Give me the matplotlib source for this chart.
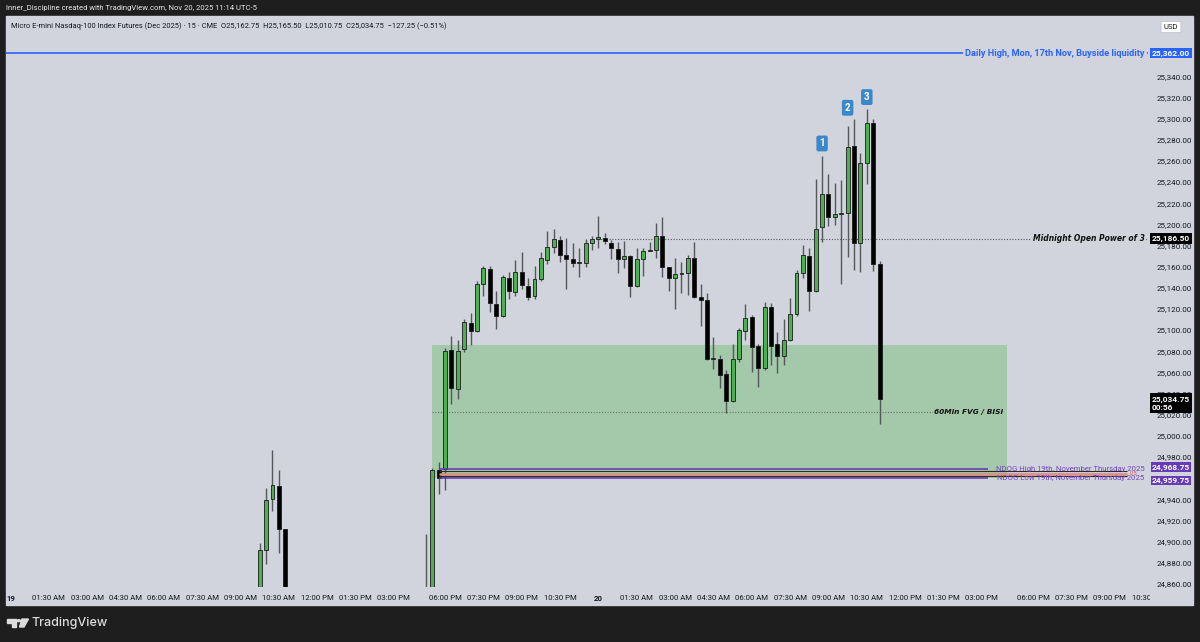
import matplotlib.pyplot as plt
import matplotlib.patches as mpatches
from matplotlib.transforms import Bbox, TransformedBbox
import pandas as pd

# 15 min MNQ candles, Nov 19-20 2025 (only the ones that reach the visible price range)
times = ['2025-11-19 09:45', '2025-11-19 10:00', '2025-11-19 10:15', '2025-11-19 10:30', '2025-11-19 10:45',
         '2025-11-19 16:15', '2025-11-19 16:30', '2025-11-19 16:45',
         '2025-11-19 18:00', '2025-11-19 18:15', '2025-11-19 18:30', '2025-11-19 18:45',
         '2025-11-19 19:00', '2025-11-19 19:15', '2025-11-19 19:30', '2025-11-19 19:45',
         '2025-11-19 20:00', '2025-11-19 20:15', '2025-11-19 20:30', '2025-11-19 20:45',
         '2025-11-19 21:00', '2025-11-19 21:15', '2025-11-19 21:30', '2025-11-19 21:45',
         '2025-11-19 22:00', '2025-11-19 22:15', '2025-11-19 22:30', '2025-11-19 22:45',
         '2025-11-19 23:00', '2025-11-19 23:15', '2025-11-19 23:30', '2025-11-19 23:45',
         '2025-11-20 00:00', '2025-11-20 00:15', '2025-11-20 00:30', '2025-11-20 00:45',
         '2025-11-20 01:00', '2025-11-20 01:15', '2025-11-20 01:30', '2025-11-20 01:45',
         '2025-11-20 02:00', '2025-11-20 02:15', '2025-11-20 02:30', '2025-11-20 02:45',
         '2025-11-20 03:00', '2025-11-20 03:15', '2025-11-20 03:30', '2025-11-20 03:45',
         '2025-11-20 04:00', '2025-11-20 04:15', '2025-11-20 04:30', '2025-11-20 04:45',
         '2025-11-20 05:00', '2025-11-20 05:15', '2025-11-20 05:30', '2025-11-20 05:45',
         '2025-11-20 06:00', '2025-11-20 06:15', '2025-11-20 06:30', '2025-11-20 06:45',
         '2025-11-20 07:00', '2025-11-20 07:15', '2025-11-20 07:30', '2025-11-20 07:45',
         '2025-11-20 08:00', '2025-11-20 08:15', '2025-11-20 08:30', '2025-11-20 08:45',
         '2025-11-20 09:00', '2025-11-20 09:15', '2025-11-20 09:30', '2025-11-20 09:45',
         '2025-11-20 10:00', '2025-11-20 10:15', '2025-11-20 10:30', '2025-11-20 10:45',
         '2025-11-20 11:00']
opens = [24840, 24892, 24940, 24952.5, 24911.5,
         24835, 24815, 24968,
         24968.75, 25081, 25044, 25082, 25106.5, 25099, 25143.5, 25158,
         25125, 25113, 25149, 25136, 25155, 25142, 25132, 25148,
         25166, 25179, 25185, 25171, 25167.5, 25163, 25163.5, 25182.5,
         25186.5, 25187.5, 25182.5, 25177, 25167.5, 25170.5, 25141.5, 25167,
         25175, 25176, 25188.5, 25159.5, 25149.5, 25153, 25153.5, 25168,
         25131, 25128, 25073, 25073, 25058, 25033, 25073, 25099,
         25112, 25085, 25064, 25121.5, 25087, 25075.5, 25091, 25115,
         25154, 25170, 25137, 25197, 25228.5, 25207, 25210, 25211,
         25274.5, 25182, 25258, 25296, 25162.75]
highs = [24899, 24950.5, 24987, 24968, 24912,
         24907, 24970, 24975,
         25083, 25094, 25091, 25110, 25116.5, 25146.5, 25160.5, 25161,
         25137, 25152, 25155, 25166, 25174, 25149, 25160.5, 25174,
         25194, 25196, 25189, 25187, 25182, 25177.5, 25186, 25189,
         25208, 25191.5, 25185, 25183.5, 25184.5, 25171, 25178, 25178,
         25183.5, 25201.5, 25207, 25159.5, 25168, 25164, 25171, 25183.5,
         25143.5, 25135, 25093, 25076, 25062, 25087, 25102, 25124.5,
         25114, 25087, 25126.5, 25126, 25098.5, 25110, 25130, 25157,
         25180.5, 25177.5, 25243, 25264.5, 25248, 25239, 25242, 25293,
         25299.5, 25267, 25309, 25299.5, 25165.5]
lows = [24830, 24879, 24929, 24889, 24820,
        24805, 24805, 24945,
        24949, 25030, 25035, 25079.5, 25086, 25098, 25132, 25117.5,
        25101, 25112, 25129, 25132, 25138.5, 25128, 25129, 25146,
        25162, 25172.5, 25164.5, 25138.5, 25159.5, 25150, 25160, 25176,
        25177.5, 25181, 25167, 25153.5, 25159, 25131.5, 25140.5, 25151,
        25175, 25168, 25150.5, 25137, 25120, 25135, 25133, 25130,
        25104, 25072, 25063.5, 25045, 25021.5, 25032, 25070, 25091,
        25060, 25046.5, 25062, 25067, 25059, 25067, 25090, 25113,
        25149, 25118, 25136, 25183.5, 25198, 25199, 25143.5, 25169,
        25157, 25155, 25238, 25156, 25010.75]
closes = [24892, 24939.5, 24953, 24911.5, 24840,
          24815, 24967.5, 24959.75,
          25080, 25045, 25080, 25108, 25099, 25143.5, 25158.5, 25126,
          25113, 25150.5, 25136.5, 25155, 25142.5, 25131.5, 25148, 25168,
          25179, 25186, 25171, 25167.5, 25163, 25163.5, 25182.75, 25186,
          25188, 25184, 25178, 25167, 25170.5, 25141.5, 25167.5, 25175,
          25176, 25188.5, 25159.5, 25149.5, 25153, 25153.5, 25168, 25131,
          25128, 25073, 25072.5, 25057.5, 25033, 25073, 25100, 25111.5,
          25084, 25064, 25121.5, 25085, 25075.5, 25091, 25115, 25153.5,
          25171, 25137, 25196, 25228.5, 25207, 25209.5, 25211, 25273,
          25182.5, 25258, 25296, 25162, 25034.75]

# key levels
daily_high = 25362.00
midnight_open = 25186.50
ndog_high = 24968.75
ndog_low = 24959.75
fvg_top = 25085.75
fvg_bottom = 24959.75
last_price = 25034.75

marker_times = ['2025-11-20 08:45', '2025-11-20 09:45', '2025-11-20 10:30']
marker_labels = ['1', '2', '3']

tick_times = ['2025-11-19 00:00', '2025-11-19 01:30', '2025-11-19 03:00', '2025-11-19 04:30',
              '2025-11-19 06:00', '2025-11-19 07:30', '2025-11-19 09:00', '2025-11-19 10:30',
              '2025-11-19 12:00', '2025-11-19 13:30', '2025-11-19 15:00', '2025-11-19 18:00',
              '2025-11-19 19:30', '2025-11-19 21:00', '2025-11-19 22:30', '2025-11-20 00:00',
              '2025-11-20 01:30', '2025-11-20 03:00', '2025-11-20 04:30', '2025-11-20 06:00',
              '2025-11-20 07:30', '2025-11-20 09:00', '2025-11-20 10:30', '2025-11-20 12:00',
              '2025-11-20 13:30', '2025-11-20 15:00', '2025-11-20 18:00', '2025-11-20 19:30',
              '2025-11-20 21:00', '2025-11-20 22:30']

DAY0 = pd.Timestamp('2025-11-19 00:00')


def slot(ts):
    # bar index on the 15 min session axis (CME break 17:00-18:00 removed)
    t = pd.Timestamp(ts)
    n = (t - DAY0).total_seconds() / 900
    for d in ['2025-11-19', '2025-11-20']:
        if t >= pd.Timestamp(d + ' 18:00'):
            n -= 4
    return n


BG = '#d1d4dc'
DARK = '#1e1e1e'
GREEN = '#4caf50'
BLUE = '#2962ff'
PURPLE = '#673ab7'
TXT = '#131722'

plt.rcParams['font.family'] = ['Roboto', 'DejaVu Sans']

W, H = 1200, 642
fig = plt.figure(figsize=(12, 6.42), dpi=100, facecolor=DARK)


def fx(px):
    return px / W


def fy(py):
    return 1 - py / H


fig.add_artist(mpatches.Rectangle((fx(6), fy(605)), (1193 - 6) / W, (605 - 16) / H,
                                  transform=fig.transFigure, color=BG, zorder=-1))
ax = fig.add_axes([fx(6), fy(587), (1148 - 6) / W, (587 - 16) / H], facecolor=BG)
for s in ax.spines.values():
    s.set_visible(False)

xs = [slot(t) for t in times]

# candles
for x, o, h, l, c in zip(xs, opens, highs, lows, closes):
    ax.vlines(x, l, h, color='#55575c', lw=1, zorder=3)
    if abs(c - o) < 1.2:
        col = '#6b6d72'
    elif c > o:
        col = GREEN
    else:
        col = '#000000'
    ax.bar(x, max(abs(c - o), 0.9), bottom=min(o, c), width=0.62, color=col,
           edgecolor='#1c1c1c', lw=0.6, zorder=4)

# FVG box
x0 = slot('2025-11-19 16:30')
x1 = slot('2025-11-20 16:00')
ax.add_patch(mpatches.Rectangle((x0, fvg_bottom), x1 - x0, fvg_top - fvg_bottom,
                                color='#a3c8aa', lw=0, zorder=1))
fvg_mid = (fvg_top + fvg_bottom) / 2
ax.hlines(fvg_mid, x0, x1 - 1, color='#6a6f6a', lw=0.8, ls=(0, (1, 1.5)), zorder=2)
ax.text(x1 - 0.6, fvg_mid, '60Min FVG / BISI', ha='right', va='center', fontsize=5.3,
        family='DejaVu Sans', style='italic', weight='bold', color='#111',
        bbox=dict(fc='#a3c8aa', ec='none', pad=1.2), zorder=2.5)

# daily high
ax.axhline(daily_high, color=BLUE, lw=1.2, zorder=2)
ax.text(0.997, daily_high, 'Daily High, Mon, 17th Nov, Buyside liquidity', transform=ax.get_yaxis_transform(),
        ha='right', va='center', fontsize=6.6, weight='bold', color=BLUE,
        bbox=dict(fc=BG, ec='none', pad=1.5), zorder=2.5)

# midnight open
xm = slot('2025-11-20 00:00')
ax.hlines(midnight_open, xm, 178, color='#55585e', lw=0.8, ls=(0, (1, 1.5)), zorder=2)
ax.text(0.997, midnight_open, 'Midnight Open Power of 3', transform=ax.get_yaxis_transform(),
        ha='right', va='center', fontsize=5.5, family='DejaVu Sans', style='italic',
        weight='bold', color='#111', bbox=dict(fc=BG, ec='none', pad=1.2), zorder=2.5)

# NDOG levels
xn = slot('2025-11-19 16:45')
xe = slot('2025-11-20 15:15')
ndog_mid = (ndog_high + ndog_low) / 2
ax.hlines([ndog_high, ndog_low], xn, xe, color='#5e35b1', lw=1.1, zorder=5)
ax.hlines([ndog_mid + 2.25, ndog_mid - 2.25], xn, 174.7, color='#2a2a2a', lw=0.8, zorder=5)
ax.hlines(ndog_mid, xn, 174.7, color='#e08a80', lw=1.8, zorder=5)
ax.text(0.997, ndog_high, 'NDOG High 19th, November Thursday 2025', transform=ax.get_yaxis_transform(),
        ha='right', va='center', fontsize=5.6, color='#7048c0', zorder=6)
ax.text(0.997, ndog_low, 'NDOG Low 19th, November Thursday 2025', transform=ax.get_yaxis_transform(),
        ha='right', va='center', fontsize=5.6, color='#7048c0', zorder=6)
ax.text(175.2, ndog_mid, '0.5', ha='left', va='center', fontsize=4, color='#d9534f', zorder=6)

# 1-2-3 markers
for t, lab, off in zip(marker_times, marker_labels, [5.5, 9.5, 5]):
    i = times.index(t)
    ax.annotate(lab, (slot(t), highs[i]), xytext=(0, off), textcoords='offset points',
                ha='center', va='bottom', fontsize=7, weight='bold', color='white',
                bbox=dict(boxstyle='round,pad=0.3,rounding_size=0.2', fc='#3a87c9', ec='none'),
                zorder=7)

ax.set_xlim(-0.7, 178.0)
ax.set_ylim(24857, 25397)

# price scale (24,960 sits fully under the NDOG tags, so no label there)
yt = list(range(24860, 25341, 20))
ax.yaxis.tick_right()
ax.set_yticks(yt, ['' if v == 24960 else f'{v:,.2f}' for v in yt])
ax.tick_params(axis='y', length=0, pad=6, labelsize=5.8, labelcolor=TXT)

# time scale
tl = []
for t in tick_times:
    ts = pd.Timestamp(t)
    tl.append(str(ts.day) if ts.hour == 0 and ts.minute == 0 else ts.strftime('%I:%M %p'))
ax.set_xticks([slot(t) for t in tick_times], tl)
ax.tick_params(axis='x', length=0, pad=6, labelsize=5.6, labelcolor=TXT)
clip = TransformedBbox(Bbox([[fx(0), 0], [fx(1150), 1]]), fig.transFigure)
for lbl in ax.get_xticklabels():
    lbl.set_clip_box(clip)
    lbl.set_clip_on(True)
    if lbl.get_text() in ('19', '20'):
        lbl.set_fontweight('bold')

# price tags
ytr = ax.get_yaxis_transform()
tag_x = 1.0035


def tag(y, txt, fc, dy=0, pad=1.3):
    ax.annotate(txt, (tag_x, y), xycoords=ytr, xytext=(0, dy), textcoords='offset points',
                ha='left', va='center', fontsize=6, weight='bold', color='white',
                bbox=dict(fc=fc, ec='none', pad=pad), annotation_clip=False, zorder=8)


tag(daily_high, f'{daily_high:,.2f}', BLUE)
tag(midnight_open, f'{midnight_open:,.2f}', '#000')
tag(ndog_high, f'{ndog_high:,.2f}', PURPLE, 1.3, 0.9)
tag(ndog_low, f'{ndog_low:,.2f}', PURPLE, -1.6, 0.9)
ax.annotate(f'{last_price:,.2f}\n00:56', (tag_x, last_price), xycoords=ytr, xytext=(0, 2.5),
            textcoords='offset points', ha='left', va='top', fontsize=6, weight='bold', color='white',
            linespacing=1.2, bbox=dict(fc='#000', ec='none', pad=1.5), annotation_clip=False, zorder=8)

# USD box
fig.text(fx(1171), fy(27), 'USD', ha='center', va='center', fontsize=5.5, color=TXT,
         bbox=dict(boxstyle='round,pad=0.35,rounding_size=0.15', fc='white', ec='#c0c3cb', lw=0.6),
         zorder=9)

# header texts
fig.text(fx(6), fy(8), 'Inner_Discipline created with TradingView.com, Nov 20, 2025 11:14 UTC-5',
         ha='left', va='center', fontsize=5.5, color='#e8e8e8')
fig.text(fx(11), fy(26), 'Micro E-mini Nasdaq-100 Index Futures (Dec 2025) \u00b7 15 \u00b7 CME  '
         'O25,162.75  H25,165.50  L25,010.75  C25,034.75  \u2212127.25 (\u22120.51%)',
         ha='left', va='center', fontsize=5.4, color=TXT)

# TradingView logo
logo = '#dcdcdc'
fig.add_artist(mpatches.Polygon([(fx(7), fy(619)), (fx(16), fy(619)), (fx(16), fy(627)),
                                 (fx(12), fy(627)), (fx(12), fy(622.5)), (fx(7), fy(622.5))],
                                closed=True, transform=fig.transFigure, color=logo, zorder=5))
fig.add_artist(mpatches.Circle((fx(18.8), fy(620.7)), 1.8 / W, transform=fig.transFigure,
                               color=logo, zorder=5))
fig.add_artist(mpatches.Polygon([(fx(22), fy(619)), (fx(28.5), fy(619)), (fx(24), fy(627)),
                                 (fx(19.5), fy(627))],
                                closed=True, transform=fig.transFigure, color=logo, zorder=5))
fig.text(fx(31), fy(623), 'TradingView', ha='left', va='center', fontsize=9, family=['Inter', 'DejaVu Sans'],
         weight='medium', color=logo)

fig.savefig('out.png', dpi=100, facecolor=DARK)
